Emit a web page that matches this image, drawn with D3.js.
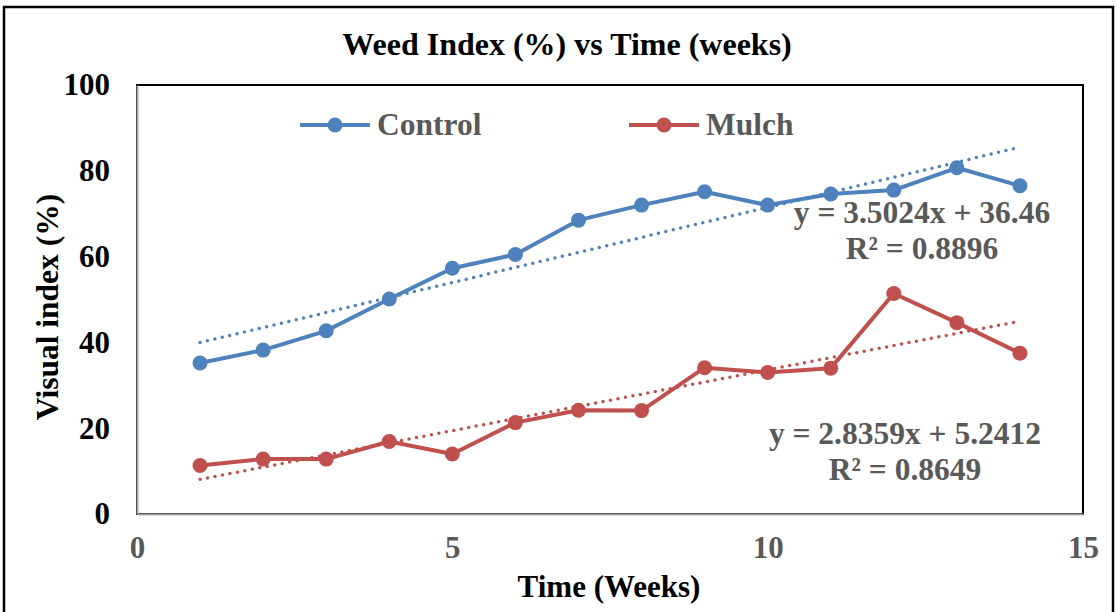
<!DOCTYPE html>
<html>
<head>
<meta charset="utf-8">
<script src="https://cdn.jsdelivr.net/npm/d3@7"></script>
<style>
  body { margin: 0; background: #fff; }
  text { font-family: "Liberation Serif", "Times New Roman", serif; font-weight: bold; }
</style>
</head>
<body>
<div id="chart"></div>
<script>
const WIDTH = 1118;
const HEIGHT = 612;
const CONTROL_COLOR = "#4F81BD";
const MULCH_COLOR = "#C0504D";
const LABEL_GRAY = "#595959";

// data
const weeks = [1, 2, 3, 4, 5, 6, 7, 8, 9, 10, 11, 12, 13, 14];
const control = [35.2, 38.2, 42.7, 50.1, 57.3, 60.5, 68.5, 72.0, 75.1, 72.0, 74.6, 75.5, 80.7, 76.5];
const mulch = [11.3, 12.8, 12.8, 16.9, 14.0, 21.3, 24.2, 24.1, 34.1, 33.0, 34.0, 51.4, 44.6, 37.5];
const seriesNames = ["Control", "Mulch"];
// trendline equations as printed on the chart
const trendSlope = [3.5024, 2.8359];
const trendIntercept = [36.46, 5.2412];
const trendLabels = [
  ["y = 3.5024x + 36.46", "R² = 0.8896"],
  ["y = 2.8359x + 5.2412", "R² = 0.8649"]
];
const xTicks = [0, 5, 10, 15];
const yTicks = [0, 20, 40, 60, 80, 100];

const margin = { left: 137, right: WIDTH - 1083, top: 85, bottom: HEIGHT - 514 };

const svg = d3.select("#chart")
  .append("svg")
  .attr("width", WIDTH)
  .attr("height", HEIGHT);

// outer chart frame
svg.append("rect")
  .attr("x", 4)
  .attr("y", 7)
  .attr("width", 1109)
  .attr("height", 620)
  .attr("fill", "none")
  .attr("stroke", "#000")
  .attr("stroke-width", 2.5);

const x = d3.scaleLinear().domain([0, 15]).range([margin.left, WIDTH - margin.right]);
const y = d3.scaleLinear().domain([0, 100]).range([HEIGHT - margin.bottom, margin.top]);

// plot area border (black top/right, grey axes)
svg.append("rect")
  .attr("x", x(0))
  .attr("y", y(100))
  .attr("width", x(15) - x(0))
  .attr("height", y(0) - y(100))
  .attr("fill", "none")
  .attr("stroke", "#000")
  .attr("stroke-width", 2);

const xAxis = svg.append("g")
  .attr("transform", `translate(0,${y(0)})`)
  .call(d3.axisBottom(x).tickValues(xTicks).tickSize(0).tickPadding(22));
xAxis.select(".domain").attr("stroke", "#A6A6A6").attr("stroke-width", 2);
xAxis.selectAll("text")
  .attr("font-size", 31)
  .attr("font-family", "Liberation Serif")
  .attr("fill", LABEL_GRAY);

const yAxis = svg.append("g")
  .attr("transform", `translate(${x(0)},0)`)
  .call(d3.axisLeft(y).tickValues(yTicks).tickSize(0).tickPadding(27));
yAxis.select(".domain").attr("stroke", "#A6A6A6").attr("stroke-width", 2);
yAxis.selectAll("text")
  .attr("font-size", 31)
  .attr("font-family", "Liberation Serif")
  .attr("fill", "#000");

// titles
svg.append("text")
  .attr("x", 567)
  .attr("y", 55)
  .attr("text-anchor", "middle")
  .attr("font-size", 32)
  .text("Weed Index (%) vs Time (weeks)");

svg.append("text")
  .attr("x", 609)
  .attr("y", 597)
  .attr("text-anchor", "middle")
  .attr("font-size", 31)
  .text("Time (Weeks)");

svg.append("text")
  .attr("transform", "translate(58,307) rotate(-90)")
  .attr("text-anchor", "middle")
  .attr("font-size", 31.5)
  .text("Visual index (%)");

// trendlines (dotted)
const seriesData = [control, mulch];
const colors = [CONTROL_COLOR, MULCH_COLOR];

seriesData.forEach((vals, s) => {
  const ends = [weeks[0], weeks[weeks.length - 1]];
  svg.append("line")
    .attr("x1", x(ends[0]))
    .attr("y1", y(trendSlope[s] * ends[0] + trendIntercept[s]))
    .attr("x2", x(ends[1]))
    .attr("y2", y(trendSlope[s] * ends[1] + trendIntercept[s]))
    .attr("stroke", colors[s])
    .attr("stroke-width", 3.5)
    .attr("stroke-linecap", "round")
    .attr("stroke-dasharray", "0 7.6");
});

// series lines and markers
const line = d3.line()
  .x(d => x(d[0]))
  .y(d => y(d[1]));

seriesData.forEach((vals, s) => {
  const pts = weeks.map((w, i) => [w, vals[i]]);
  svg.append("path")
    .datum(pts)
    .attr("d", line)
    .attr("fill", "none")
    .attr("stroke", colors[s])
    .attr("stroke-width", 4)
    .attr("stroke-linejoin", "round");

  svg.append("g")
    .selectAll("circle")
    .data(pts)
    .enter()
    .append("circle")
    .attr("cx", d => x(d[0]))
    .attr("cy", d => y(d[1]))
    .attr("r", 7.5)
    .attr("fill", colors[s]);
});

// trendline equation labels
const labelPos = [[922, 223], [905, 444]];
trendLabels.forEach((lines, s) => {
  const t = svg.append("text")
    .attr("text-anchor", "middle")
    .attr("font-size", 31.5)
    .attr("fill", LABEL_GRAY);
  lines.forEach((l, j) => {
    t.append("tspan")
      .attr("x", labelPos[s][0])
      .attr("y", labelPos[s][1] + j * 36)
      .text(l);
  });
});

// legend
const legendX = [300, 629];
seriesNames.forEach((name, s) => {
  const g = svg.append("g").attr("transform", `translate(${legendX[s]},125)`);
  g.append("line")
    .attr("x1", 0).attr("x2", 70)
    .attr("stroke", colors[s])
    .attr("stroke-width", 4);
  g.append("circle")
    .attr("cx", 35)
    .attr("r", 7.5)
    .attr("fill", colors[s]);
  g.append("text")
    .attr("x", 77)
    .attr("y", 10)
    .attr("font-size", 31.5)
    .attr("fill", LABEL_GRAY)
    .text(name);
});
</script>
</body>
</html>
